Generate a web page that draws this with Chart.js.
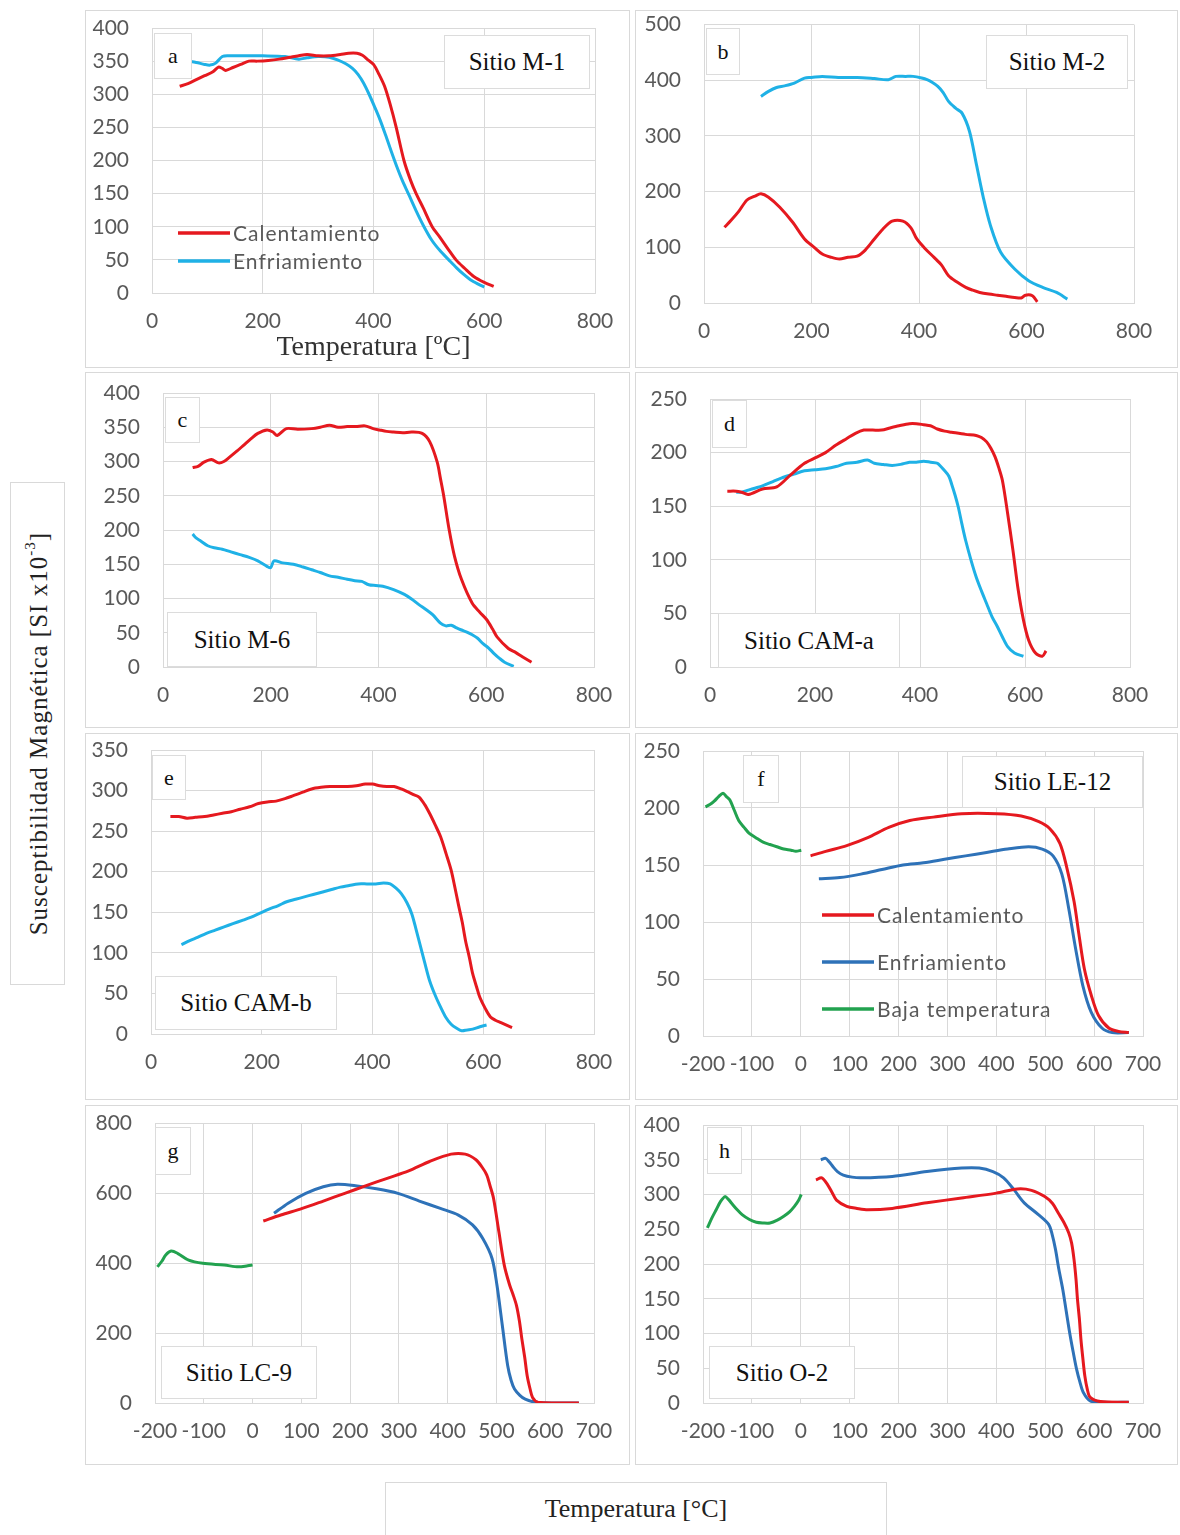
<!DOCTYPE html>
<html>
<head>
<meta charset="utf-8">
<script src="https://cdn.jsdelivr.net/npm/chart.js@4.4.1/dist/chart.umd.min.js"></script>
<style>
  body { margin: 0; background: #fff; width: 1180px; height: 1535px; position: relative; overflow: hidden; }
  .panel { position: absolute; border: 1px solid #d9d9d9; box-sizing: border-box; background: #fff; }
  .panel canvas { position: absolute; left: 0; top: 0; }
  .tag { position: absolute; background: #fff; border: 1px solid #dcdcdc; box-sizing: border-box;
         font-family: "Liberation Serif", serif; color: #111; display: flex; align-items: center; justify-content: center; z-index: 2; }
  .ytitle { position: absolute; left: 10px; top: 482px; width: 55px; height: 503px; border: 1px solid #d9d9d9; box-sizing: border-box;
            display: flex; align-items: center; justify-content: center; }
  .ytitle span { writing-mode: vertical-rl; transform: rotate(180deg); font-family: "Liberation Serif", serif; font-size: 25px; letter-spacing: 1px; color: #222; white-space: nowrap; }
  .ytitle sup { font-size: 15px; }
  .xtitle { position: absolute; left: 385px; top: 1482px; width: 502px; height: 70px; border: 1px solid #d9d9d9; box-sizing: border-box;
            font-family: "Liberation Serif", serif; font-size: 26px; color: #222; text-align: center; line-height: 52px; }
</style>
</head>
<body>
<div class="ytitle"><span>Susceptibilidad Magnética [SI x10<sup>-3</sup>]</span></div>
<div class="xtitle">Temperatura [°C]</div>
<script>
// Colores
const ROJO = '#e5191f';
const CELESTE = '#1fb1e6';
const AZUL = '#2e72b8';
const VERDE = '#22a24f';

// ---- Datos (temperatura °C / susceptibilidad SI x10^-3) ----
// a - Sitio M-1
const calA_T = [50,65,80,95,110,120,127,133,145,160,175,190,210,230,250,265,280,300,320,340,355,370,380,390,400,410,420,430,441,455,467,477,490,506,520,535,549,565,581,600,617];
const calA_S = [312,316,322,328,334,341,339,336,340,345,350,350,351,353,356,358,360,358,358,360,362,362,359,352,345,330,312,285,250,200,170,150,128,100,84,66,50,37,25,16,10];
const enfA_T = [65,80,95,105,115,127,140,170,200,240,265,280,300,320,335,350,362,372,382,392,402,412,422,432,442,452,464,477,490,505,520,536,550,563,575,590,600];
const enfA_S = [350,348,345,344,347,357,358,358,358,357,353,355,357,356,352,346,339,330,317,300,281,261,238,214,191,170,148,124,102,80,64,50,38,28,20,13,9];

// b - Sitio M-2
const calB_T = [38,50,65,80,95,106,120,141,165,187,205,220,237,252,268,285,300,317,333,350,370,385,396,412,428,442,455,470,487,500,513,530,546,562,578,590,598,611,620];
const calB_S = [136,148,165,185,192,196,190,172,145,115,100,88,82,79,82,84,95,115,133,147,147,135,115,97,82,68,49,38,28,23,19,16,14,12,10,9,14,13,2];
const enfB_T = [106,120,135,150,168,187,200,220,250,285,317,343,357,375,389,405,415,425,435,445,455,468,480,494,507,520,533,552,578,604,630,656,676];
const enfB_S = [371,380,387,390,395,404,405,407,405,405,403,401,407,407,407,404,401,396,389,378,362,350,341,308,248,188,139,91,61,40,28,19,7];

// c - Sitio M-6
const calC_T = [55,65,76,90,103,113,123,137,150,163,176,193,204,212,229,250,276,292,309,325,342,358,375,390,402,415,428,445,462,481,495,509,515,521,531,541,554,574,588,601,612,620,641,655,667,684];
const calC_S = [291,293,299,303,298,300,306,315,324,333,341,346,343,338,348,347,348,350,353,350,351,351,352,348,346,344,343,342,343,341,329,299,275,250,201,162,128,93,80,69,55,44,27,21,15,7];
const enfC_T = [55,62,70,83,95,110,126,143,160,176,193,200,206,222,242,260,276,292,309,325,342,356,369,382,395,408,428,448,462,475,488,501,515,525,535,545,554,564,574,584,594,604,614,624,634,651];
const enfC_S = [194,188,184,177,174,172,168,164,160,155,147,145,155,152,150,146,142,138,133,131,128,126,125,120,119,118,113,106,99,91,84,76,64,60,61,57,54,51,47,42,34,28,20,13,7,1];

// d - Sitio CAM-a
const calD_T = [33,50,60,73,100,127,153,180,200,220,240,260,277,293,310,327,343,360,380,393,407,420,433,447,460,487,507,517,527,535,543,550,557,567,577,587,597,607,620,633,640];
const calD_S = [164,164,163,161,166,168,179,190,195,200,207,213,218,221,221,221,223,225,227,227,226,225,222,220,219,217,216,214,210,204,196,186,174,143,109,72,44,25,13,10,15];
const enfD_T = [50,60,73,87,100,120,140,160,180,200,220,240,260,280,300,313,330,347,363,380,393,407,420,433,447,455,460,467,473,480,487,497,507,517,527,537,547,557,567,580,597];
const enfD_S = [163,163,165,167,169,173,177,180,183,184,185,187,190,191,193,190,189,188,189,191,191,192,191,190,183,178,171,160,149,133,118,100,84,71,59,47,38,28,19,13,10];

// e - Sitio CAM-b
const calE_T = [35,50,65,80,97,113,129,145,161,178,194,210,226,242,258,274,290,307,323,339,355,371,387,400,413,426,439,452,465,474,484,494,503,513,523,533,542,549,555,562,568,575,581,588,594,604,613,622,632,642,652];
const calE_S = [268,268,266,267,268,270,272,274,277,280,284,286,287,290,294,298,302,304,305,305,305,306,308,308,306,305,305,302,298,295,292,283,272,258,243,222,202,180,160,138,115,94,74,58,45,31,21,17,14,11,8];
const enfE_T = [55,70,84,100,116,132,148,165,181,197,213,229,245,261,277,293,310,326,342,358,374,390,406,420,432,442,452,462,471,479,487,495,503,513,523,532,542,552,561,571,581,594,606];
const enfE_S = [110,115,119,124,128,132,136,140,144,149,154,158,163,166,169,172,175,178,181,183,185,185,185,186,185,180,173,162,148,128,107,86,66,48,33,21,12,7,4,5,6,9,11];

// f - Sitio LE-12
const calF_T = [20,51,94,137,180,223,271,329,401,451,487,509,530,544,559,569,580,594,609,630,650,671];
const calF_S = [158,162,167,174,183,189,192,195,195,193,188,182,169,148,118,89,59,36,18,7,4,3];
const enfF_T = [37,80,123,166,209,251,294,337,380,423,466,494,516,534,548,562,577,594,616,637,671];
const enfF_S = [138,139,142,146,150,152,155,158,161,164,166,164,158,142,112,77,44,21,7,3,3];
const bajaF_T = [-195,-186,-177,-168,-159,-152,-145,-136,-127,-116,-106,-92,-77,-63,-49,-35,-20,-10,1];
const bajaF_S = [201,203,206,210,213,210,207,198,189,183,178,174,170,168,166,164,163,162,163];

// g - Sitio LC-9
const calG_T = [22,58,102,145,189,233,276,320,363,407,436,458,470,480,487,494,505,516,527,534,541,547,552,558,563,569,574,585,620,669];
const calG_S = [520,537,556,577,599,621,642,663,690,711,711,695,675,652,620,585,489,394,337,310,279,235,184,130,78,40,16,2,0,0];
const enfG_T = [44,73,109,145,174,211,254,298,342,385,422,451,472,491,501,512,523,530,537,548,559,581,620,669];
const enfG_S = [542,571,599,618,625,621,612,599,577,556,537,509,470,413,337,222,107,65,40,22,11,2,0,0];
const bajaG_T = [-195,-186,-178,-167,-153,-131,-102,-58,-29,-10,0];
const bajaG_S = [389,405,423,434,427,408,399,394,389,392,394];

// h - Sitio O-2
const calH_T = [31,43,55,64,73,94,115,137,187,258,329,400,443,472,499,515,527,538,548,554,559,563,566,570,573,577,581,586,592,613,671];
const calH_S = [321,324,314,303,292,283,280,278,280,288,295,302,308,306,297,287,273,260,245,230,206,178,149,120,92,64,39,20,8,2,1];
const enfH_T = [41,51,58,66,75,87,105,123,187,258,329,365,393,415,436,457,486,507,514,521,528,536,543,550,557,564,571,578,592,620,671];
const enfH_S = [350,352,347,340,333,328,325,324,326,333,338,338,333,324,307,288,271,257,243,221,192,163,132,101,74,49,30,15,3,1,1];
const bajaH_T = [-191,-182,-173,-164,-155,-148,-141,-130,-120,-105,-91,-77,-63,-48,-34,-23,-13,-5,1];
const bajaH_S = [252,266,278,290,297,293,287,278,271,264,260,259,259,263,269,275,283,291,300];

// Paneles: caja del panel y area del grafico en coordenadas de pagina
const panels = [
  { tag: 'a', site: 'Sitio M-1', box: [85,10,630,368], plot: [152,28,595,293], xr: [0,800,200], yr: [0,400,50],
    series: [[calA_T,calA_S,'Calentamiento',ROJO],[enfA_T,enfA_S,'Enfriamiento',CELESTE]],
    legend: { x: 178, y: 233, gap: 28 }, xTitle: true },
  { tag: 'b', site: 'Sitio M-2', box: [635,10,1178,368], plot: [704,24,1134,303], xr: [0,800,200], yr: [0,500,100],
    series: [[calB_T,calB_S,'Calentamiento',ROJO],[enfB_T,enfB_S,'Enfriamiento',CELESTE]] },
  { tag: 'c', site: 'Sitio M-6', box: [85,372,630,728], plot: [163,393,594,667], xr: [0,800,200], yr: [0,400,50],
    series: [[calC_T,calC_S,'Calentamiento',ROJO],[enfC_T,enfC_S,'Enfriamiento',CELESTE]] },
  { tag: 'd', site: 'Sitio CAM-a', box: [635,372,1178,728], plot: [710,399,1130,667], xr: [0,800,200], yr: [0,250,50],
    series: [[calD_T,calD_S,'Calentamiento',ROJO],[enfD_T,enfD_S,'Enfriamiento',CELESTE]] },
  { tag: 'e', site: 'Sitio CAM-b', box: [85,733,630,1100], plot: [151,750,594,1034], xr: [0,800,200], yr: [0,350,50],
    series: [[calE_T,calE_S,'Calentamiento',ROJO],[enfE_T,enfE_S,'Enfriamiento',CELESTE]] },
  { tag: 'f', site: 'Sitio LE-12', box: [635,733,1178,1100], plot: [703,751,1143,1036], xr: [-200,700,100], yr: [0,250,50],
    series: [[calF_T,calF_S,'Calentamiento',ROJO],[enfF_T,enfF_S,'Enfriamiento',AZUL],[bajaF_T,bajaF_S,'Baja temperatura',VERDE]],
    legend: { x: 822, y: 915, gap: 47 } },
  { tag: 'g', site: 'Sitio LC-9', box: [85,1105,630,1465], plot: [155,1123,594,1403], xr: [-200,700,100], yr: [0,800,200],
    series: [[calG_T,calG_S,'Calentamiento',ROJO],[enfG_T,enfG_S,'Enfriamiento',AZUL],[bajaG_T,bajaG_S,'Baja temperatura',VERDE]] },
  { tag: 'h', site: 'Sitio O-2', box: [635,1105,1178,1465], plot: [703,1125,1143,1403], xr: [-200,700,100], yr: [0,400,50],
    series: [[calH_T,calH_S,'Calentamiento',ROJO],[enfH_T,enfH_S,'Enfriamiento',AZUL],[bajaH_T,bajaH_S,'Baja temperatura',VERDE]] }
];

// Cajas de texto (letra y sitio), en pagina
const tagBoxes = { a:[154,33,38,46], b:[706,28,34,47], c:[165,397,35,46], d:[712,400,35,48],
                   e:[152,755,34,45], f:[743,755,36,48], g:[155,1127,36,48], h:[707,1127,35,47] };
const siteBoxes = { a:[444,35,146,54], b:[986,35,142,54], c:[167,612,150,55], d:[718,613,182,55],
                    e:[155,976,182,54], f:[962,756,181,52], g:[161,1346,156,53], h:[709,1346,146,53] };

Chart.defaults.font.family = 'Lato';
Chart.defaults.font.size = 21;
Chart.defaults.color = '#595959';

// Leyenda dentro del grafico
const inlineLegend = {
  id: 'inlineLegend',
  afterDatasetsDraw(chart, args, opts) {
    if (opts.x === undefined) return;
    const ctx = chart.ctx;
    ctx.save();
    ctx.font = '21px Lato';
    ctx.letterSpacing = '1px';
    ctx.textBaseline = 'middle';
    chart.data.datasets.forEach((ds, i) => {
      const y = opts.y + i * opts.gap;
      ctx.strokeStyle = ds.borderColor;
      ctx.lineWidth = 3.5;
      ctx.beginPath();
      ctx.moveTo(opts.x, y);
      ctx.lineTo(opts.x + opts.len, y);
      ctx.stroke();
      ctx.fillStyle = '#595959';
      ctx.fillText(ds.label, opts.x + opts.len + 3, y + 1);
    });
    ctx.restore();
  }
};

function addBox(text, r, size) {
  const d = document.createElement('div');
  d.className = 'tag';
  d.style.left = r[0] + 'px';
  d.style.top = r[1] + 'px';
  d.style.width = r[2] + 'px';
  d.style.height = r[3] + 'px';
  d.style.fontSize = size + 'px';
  d.textContent = text;
  document.body.appendChild(d);
}

panels.forEach(p => {
  const [bx1, by1, bx2, by2] = p.box;
  const div = document.createElement('div');
  div.className = 'panel';
  div.style.left = bx1 + 'px';
  div.style.top = by1 + 'px';
  div.style.width = (bx2 - bx1) + 'px';
  div.style.height = (by2 - by1) + 'px';
  const cv = document.createElement('canvas');
  const cw = bx2 - bx1 - 2, ch = by2 - by1 - 2;
  cv.width = cw; cv.height = ch;
  cv.style.width = cw + 'px'; cv.style.height = ch + 'px';
  div.appendChild(cv);
  document.body.appendChild(div);

  const ox = bx1 + 1, oy = by1 + 1;
  const L = p.plot[0] - ox, T = p.plot[1] - oy, R = p.plot[2] - ox, B = p.plot[3] - oy;

  new Chart(cv, {
    type: 'scatter',
    data: {
      datasets: p.series.map(s => ({
        label: s[2],
        data: s[0].map((t, i) => ({ x: t, y: s[1][i] })),
        showLine: true,
        borderColor: s[3],
        borderWidth: 3,
        pointRadius: 0,
        tension: 0.3,
        fill: false
      }))
    },
    options: {
      responsive: false,
      animation: false,
      events: [],
      layout: { padding: { left: 0, top: T, right: cw - R, bottom: 0 } },
      plugins: {
        legend: { display: false },
        tooltip: { enabled: false },
        inlineLegend: p.legend ? { x: p.legend.x - ox, y: p.legend.y - oy, gap: p.legend.gap, len: 52 } : {}
      },
      scales: {
        x: {
          type: 'linear', min: p.xr[0], max: p.xr[1],
          ticks: { stepSize: p.xr[2], padding: 1, maxRotation: 0, autoSkip: false },
          grid: { color: '#d9d9d9', drawTicks: true, tickLength: 15, tickColor: 'rgba(0,0,0,0)' },
          border: { color: '#d9d9d9' },
          title: p.xTitle
            ? { display: true, text: 'Temperatura [ºC]', color: '#333', font: { family: 'Liberation Serif', size: 28 }, padding: { top: 0, bottom: 3 } }
            : { display: false },
          afterFit(s) { s.height = ch - B; }
        },
        y: {
          type: 'linear', min: p.yr[0], max: p.yr[1],
          ticks: { stepSize: p.yr[2], padding: 1 },
          grid: { color: '#d9d9d9', drawTicks: true, tickLength: 22, tickColor: 'rgba(0,0,0,0)' },
          border: { color: '#d9d9d9' },
          afterFit(s) { s.width = L; }
        }
      }
    },
    plugins: [inlineLegend]
  });

  addBox(p.tag, tagBoxes[p.tag], 22);
  addBox(p.site, siteBoxes[p.tag], 25);
});
</script>
</body>
</html>
